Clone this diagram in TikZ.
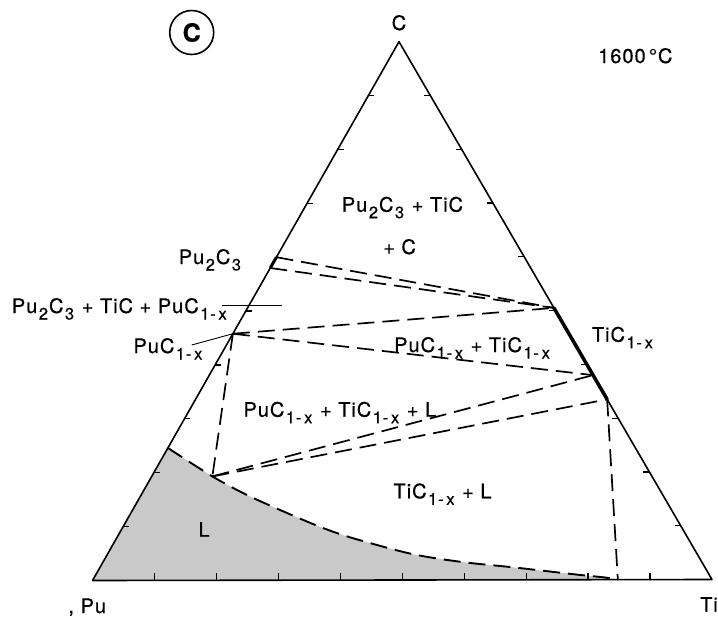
\documentclass[tikz,border=0pt]{standalone}
\usepackage{fontspec}
\setmainfont{TeX Gyre Heros}[LetterSpace=5.0,FakeBold=0.6]
\newcommand\lo[1]{\raisebox{-6.5pt}{\fontsize{16.5}{17}\selectfont\hspace{1.5pt}#1}\hspace{1pt}}
\begin{document}
\begin{tikzpicture}[x=1pt,y=-1pt,
  edge/.style={line width=1.6pt, line cap=round, line join=round},
  tie/.style={line width=1.7pt, dash pattern=on 17pt off 8pt},
  tickmark/.style={line width=1.2pt},
  lead/.style={line width=0.9pt},
  lbl/.style={inner sep=0pt, font=\fontsize{20}{22}\selectfont},
  phase/.style={line width=3.5pt, line cap=round},
]
\useasboundingbox (0,0) rectangle (718,621);
% vertices
\coordinate (Pu) at (92.5,580.5);
\coordinate (Ti) at (712,579.5);
\coordinate (C) at (399,41.7);
% special points
\coordinate (A1) at (barycentric cs:Pu=0.40,Ti=0,C=0.60);
\coordinate (A2) at (barycentric cs:Pu=0.42,Ti=0,C=0.58);
\coordinate (P1) at (barycentric cs:Pu=0.542,Ti=0,C=0.458);
\coordinate (T1) at (barycentric cs:Pu=0,Ti=0.495,C=0.505);
\coordinate (T2) at (barycentric cs:Pu=0,Ti=0.62,C=0.38);
\coordinate (T3) at (barycentric cs:Pu=0,Ti=0.665,C=0.335);
\coordinate (L1) at (barycentric cs:Pu=0.709,Ti=0.098,C=0.193);
\coordinate (Lleft) at (barycentric cs:Pu=0.754,Ti=0,C=0.246);
\coordinate (Lbase) at (barycentric cs:Pu=0.152,Ti=0.848,C=0);
% liquid region
\fill[black!21] (Pu) -- (Lleft) -- plot[smooth] coordinates {(Lleft) (L1) (247,495) (287,513) (323,528) (354,538.5) (412,554) (462,562) (510,567) (541,570.5) (576,574.5) (605,577.5) (Lbase)} -- cycle;
% triangle
\draw[edge] (Pu) -- (Ti) -- (C) -- cycle;
% ticks
\foreach \t in {1,...,9}{
  \pgfmathtruncatemacro\u{10-\t}
  \draw[tickmark] (barycentric cs:Pu=\u,Ti=0,C=\t) -- ++(6,0);
  \draw[tickmark] (barycentric cs:Pu=0,Ti=\u,C=\t) -- ++(-6,0);
  \draw[tickmark] (barycentric cs:Pu=\u,Ti=\t,C=0) -- ++(0,-7);
}
% liquidus
\draw[tie, line width=1.9pt] plot[smooth] coordinates {(Lleft) (L1) (247,495) (287,513) (323,528) (354,538.5) (412,554) (462,562) (510,567) (541,570.5) (576,574.5) (605,577.5) (Lbase)};
% tie lines
\draw[tie] (A1) -- (T1);
\draw[tie] (A2) -- (T1);
\draw[tie] (P1) -- (T1);
\draw[tie] (P1) -- (T2);
\draw[tie] (P1) -- (L1);
\draw[tie] (L1) -- (T2);
\draw[tie] (L1) -- (T3);
\draw[tie] (T3) -- (Lbase);
% homogeneity ranges
\draw[phase] (T1) -- (T3);
\draw[line width=3pt] (A1) -- (A2);
% labels
\node[lbl, anchor=base] (lC) at (399,30) {C};
\node[draw, circle, line width=1.6pt, minimum size=44pt, inner sep=0pt, font=\bfseries\fontsize{25}{25}\selectfont] (circ) at (191.7,32.5) {C};
\node[lbl, anchor=base west] (temp) at (598,63) {1600\,°C};
\node[lbl, anchor=base west] (r1) at (341.7,211.7) {Pu\lo{2}C\lo{3} + TiC};
\node[lbl, anchor=base west] (r1b) at (383,254) {+ C};
\node[lbl, anchor=base west] (lP23) at (178.6,264) {Pu\lo{2}C\lo{3}};
\node[lbl, anchor=base west] (r2) at (11.7,313) {Pu\lo{2}C\lo{3} + TiC + PuC\lo{1-\,x}};
\node[lbl, anchor=base west] (lPuC) at (133.3,353) {PuC\lo{1-\,x}};
\node[lbl, anchor=base west] (r3) at (394,352) {PuC\lo{1-\,x} + TiC\lo{1-\,x}};
\node[lbl, anchor=base west] (lTiC) at (591.7,341.7) {TiC\lo{1-\,x}};
\node[lbl, anchor=base west] (r4) at (243.3,416.7) {PuC\lo{1-\,x} + TiC\lo{1-\,x} + L};
\node[lbl, anchor=base west] (r5) at (393.3,498.3) {TiC\lo{1-\,x} + L};
\node[lbl, anchor=base west] (rL) at (198.3,536.7) {L};
\node[lbl, anchor=base west] (lPu) at (68.3,613) {, Pu};
\node[lbl, anchor=base east] (lTi) at (718,611.7) {Ti};
% leaders
\coordinate (k1a) at (222,305);
\coordinate (k1b) at (282,305);
\coordinate (k2a) at (191.7,345);
\draw[lead] (k1a) -- (k1b);
\draw[lead] (k2a) -- (P1);
\end{tikzpicture}
\end{document}
